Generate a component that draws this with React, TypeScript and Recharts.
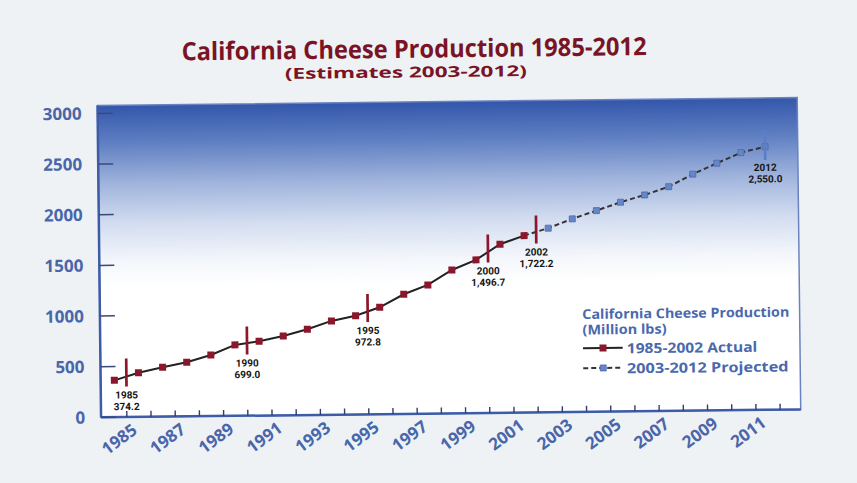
import React from 'react';
import { ComposedChart, Line, XAxis, YAxis, ReferenceArea, ReferenceDot, Legend } from 'recharts';

const years = [1985, 1986, 1987, 1988, 1989, 1990, 1991, 1992, 1993, 1994, 1995, 1996, 1997, 1998, 1999, 2000, 2001, 2002, 2003, 2004, 2005, 2006, 2007, 2008, 2009, 2010, 2011, 2012];
const actualValues = [364, 436, 487, 534, 603, 700, 733, 783, 846, 926, 975, 1055, 1181, 1270, 1415, 1512, 1664, 1746];
const projectedValues = [1817, 1906, 1985, 2065, 2134, 2213, 2334, 2439, 2541, 2597];
const yTicks = [0, 500, 1000, 1500, 2000, 2500, 3000];
const xTickLabels = ['1985', '1987', '1989', '1991', '1993', '1995', '1997', '1999', '2001', '2003', '2005', '2007', '2009', '2011'];

const markerYears = [1985.5, 1990.5, 1995.5, 2000.5, 2002.5, 2012];
const markerValues = [440, 742, 1049, 1624, 1805, 2614];
const markerYearText = ['1985', '1990', '1995', '2000', '2002', '2012'];
const markerValueText = ['374.2', '699.0', '972.8', '1,496.7', '1,722.2', '2,550.0'];
const markerKinds = ['actual', 'actual', 'actual', 'actual', 'actual', 'projected'];

const titleText = 'California Cheese Production 1985-2012';
const subtitleText = '(Estimates 2003-2012)';
const legendTitle = 'California Cheese Production';
const legendUnit = '(Million lbs)';
const actualName = '1985-2002 Actual';
const projectedName = '2003-2012 Projected';

const X_MIN = 1984.434;
const X_MAX = 2013.35;
const Y_MAX = 3078;

const RED = '#8a172c';
const BLUE_MARK = '#6686c8';
const AXIS_BLUE = '#3d5ca8';
const LABEL_BLUE = '#4a66aa';
const FONT = "'Open Sans', 'Noto Sans', sans-serif";

const data = years.map((year, i) => ({
  year,
  actual: i < actualValues.length ? actualValues[i] : null,
  projected:
    i === actualValues.length - 1
      ? actualValues[i]
      : i >= actualValues.length
      ? projectedValues[i - actualValues.length]
      : null,
}));

const tickValues = years.map((y) => y + 0.5);

const YTick = (props: any) => {
  const { x, y, payload } = props;
  return (
    <g>
      <line x1={x} x2={x + 15} y1={y} y2={y} stroke="#3a4a78" strokeWidth={1.5} />
      <text x={x - 16} y={y} dy="0.36em" textAnchor="end" fill={LABEL_BLUE} fontSize={17} fontWeight={700} fontFamily={FONT}>
        {payload.value}
      </text>
    </g>
  );
};

const XTick = (props: any) => {
  const { x, y, payload } = props;
  const label = String(Math.floor(payload.value));
  const show = xTickLabels.includes(label);
  return (
    <g>
      <line x1={x} x2={x} y1={y} y2={y - 6} stroke="#2f3f70" strokeWidth={1.4} />
      {show && (
        <text
          transform={`translate(${x + 11.3},${y + 15.5}) rotate(-36)`}
          textAnchor="end"
          fill={LABEL_BLUE}
          fontSize={17}
          fontWeight={700}
          fontFamily={FONT}
        >
          {label}
        </text>
      )}
    </g>
  );
};

const ActualDot = (props: any) => {
  const { cx, cy, index, value } = props;
  if (cx == null || cy == null || value == null) return <g key={`ad${index}`} />;
  return <rect key={`ad${index}`} x={cx - 3.5} y={cy - 3.5} width={7} height={7} fill={RED} />;
};

const ProjectedDot = (props: any) => {
  const { cx, cy, index, value, payload } = props;
  if (cx == null || cy == null || value == null || payload.year <= 2002) return <g key={`pd${index}`} />;
  return (
    <rect key={`pd${index}`} x={cx - 3} y={cy - 3} width={6} height={6} fill={BLUE_MARK} stroke="#4a68b0" strokeWidth={0.8} />
  );
};

const makeMarker = (i: number) => (p: any) => {
  const { cx, cy } = p;
  const actual = markerKinds[i] === 'actual';
  const color = actual ? RED : '#5b7ec4';
  const half = actual ? 14 : 15;
  return (
    <g>
      <line x1={cx} x2={cx} y1={cy - half} y2={cy + half} stroke={color} strokeWidth={2.7} />
      <text x={cx} y={cy + 26} textAnchor="middle" fill="#151515" fontSize={10} fontWeight={700} fontFamily="Roboto, sans-serif">
        {markerYearText[i]}
      </text>
      <text x={cx} y={cy + 37.5} textAnchor="middle" fill="#151515" fontSize={10} fontWeight={700} fontFamily="Roboto, sans-serif">
        {markerValueText[i]}
      </text>
    </g>
  );
};

const LegendBox = () => (
  <svg width={230} height={85} style={{ overflow: 'visible', display: 'block' }}>
    <text x={7.7} y={19.5} textLength={207} lengthAdjust="spacingAndGlyphs" fill="#4a68ad" fontSize={13.5} fontWeight={700} fontFamily={FONT}>
      {legendTitle}
    </text>
    <text x={7.7} y={35} textLength={84} lengthAdjust="spacingAndGlyphs" fill="#4a68ad" fontSize={13.5} fontWeight={700} fontFamily={FONT}>
      {legendUnit}
    </text>
    <line x1={8} x2={47.7} y1={48.7} y2={48.7} stroke="#222" strokeWidth={2} />
    <rect x={24.5} y={45.2} width={7} height={7} fill={RED} />
    <text x={51.7} y={54.3} textLength={130.6} lengthAdjust="spacingAndGlyphs" fill="#4a68ad" fontSize={14} fontWeight={700} fontFamily={FONT}>
      {actualName}
    </text>
    <line x1={8} x2={47.7} y1={68.7} y2={68.7} stroke="#333" strokeWidth={2} strokeDasharray="5 3" />
    <rect x={25} y={65.7} width={6} height={6} fill={BLUE_MARK} stroke="#4a68b0" strokeWidth={0.8} />
    <text x={51.7} y={74.3} textLength={161.6} lengthAdjust="spacingAndGlyphs" fill="#4a68ad" fontSize={14} fontWeight={700} fontFamily={FONT}>
      {projectedName}
    </text>
  </svg>
);

export default function App() {
  return (
    <div style={{ position: 'absolute', left: 0, top: 0, width: 857, height: 483, background: '#eef2f5', overflow: 'hidden' }}>
      <div style={{ position: 'absolute', left: 0, top: 0, width: 857, height: 483, transform: 'rotate(-0.65deg)', transformOrigin: '450px 260px' }}>
        <ComposedChart width={857} height={483} data={data} margin={{ top: 101.5, right: 58, bottom: 29.6, left: 39.3 }}>
          <defs>
            <linearGradient id="plotBg" x1="0" y1="0" x2="0" y2="1">
              <stop offset="0%" stopColor="#3356ab" />
              <stop offset="12%" stopColor="#5f7fc2" />
              <stop offset="25%" stopColor="#9fb3dc" />
              <stop offset="38%" stopColor="#d3ddf0" />
              <stop offset="50%" stopColor="#f3f6fb" />
              <stop offset="58%" stopColor="#ffffff" />
              <stop offset="100%" stopColor="#ffffff" />
            </linearGradient>
          </defs>
          <ReferenceArea
            x1={X_MIN}
            x2={X_MAX}
            y1={0}
            y2={Y_MAX}
            fill="url(#plotBg)"
            fillOpacity={1}
            stroke="#6a82bf"
            strokeWidth={1.5}
            ifOverflow="visible"
          />
          <XAxis
            dataKey="year"
            type="number"
            domain={[X_MIN, X_MAX]}
            ticks={tickValues}
            interval={0}
            height={40}
            tickSize={0}
            tickMargin={0}
            tickLine={false}
            tick={<XTick />}
            axisLine={{ stroke: AXIS_BLUE, strokeWidth: 2.5 }}
            allowDataOverflow
          />
          <YAxis
            type="number"
            domain={[0, Y_MAX]}
            ticks={yTicks}
            interval={0}
            width={60}
            tickSize={0}
            tickMargin={0}
            tickLine={false}
            tick={<YTick />}
            axisLine={{ stroke: AXIS_BLUE, strokeWidth: 2.5 }}
            allowDataOverflow
          />
          <Line
            dataKey="projected"
            name={projectedName}
            stroke="#333"
            strokeWidth={2}
            strokeDasharray="5 3"
            dot={ProjectedDot}
            activeDot={false}
            isAnimationActive={false}
          />
          <Line
            dataKey="actual"
            name={actualName}
            stroke="#222"
            strokeWidth={2}
            dot={ActualDot}
            activeDot={false}
            isAnimationActive={false}
          />
          {markerYears.map((mx, i) => (
            <ReferenceDot key={`m${i}`} x={mx} y={markerValues[i]} shape={makeMarker(i)} ifOverflow="visible" />
          ))}
          <Legend
            content={() => <LegendBox />}
            wrapperStyle={{ position: 'absolute', left: 574, top: 300.7, width: 0, height: 0, overflow: 'visible' }}
          />
        </ComposedChart>
        <svg width={857} height={100} style={{ position: 'absolute', left: 0, top: 0, pointerEvents: 'none' }}>
          <text x={184} y={57.3} textLength={465} lengthAdjust="spacingAndGlyphs" fill="#7a1425" fontSize={25} fontWeight={700} fontFamily={FONT}>
            {titleText}
          </text>
          <text x={287} y={77} textLength={242} lengthAdjust="spacingAndGlyphs" fill="#7a1425" fontSize={15} fontWeight={700} fontFamily={FONT}>
            {subtitleText}
          </text>
        </svg>
      </div>
    </div>
  );
}
